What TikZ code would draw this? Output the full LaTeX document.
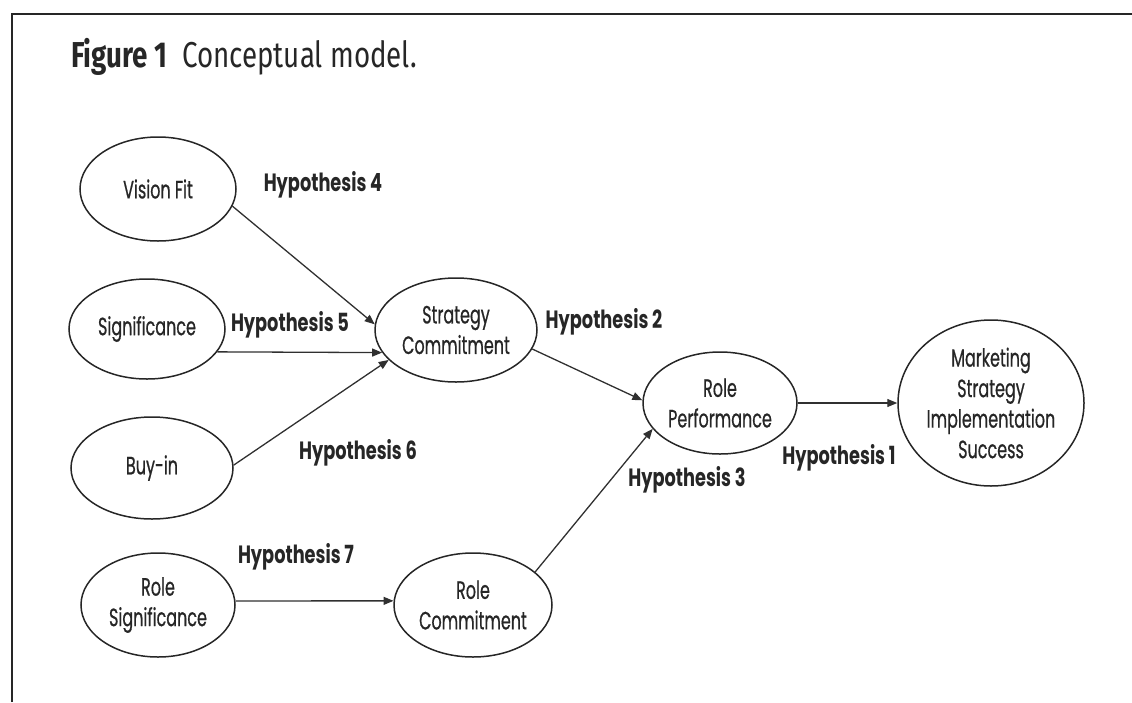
\documentclass[tikz,border=0pt]{standalone}
\usepackage{fontspec}
\usetikzlibrary{shapes.geometric,arrows.meta}
\newfontfamily\nodefont[FakeStretch=0.64,FakeBold=0.6]{Poppins}
\newfontfamily\hypfont[FakeStretch=0.71]{Poppins}
\newfontfamily\titlefont[FakeStretch=0.77]{Fira Sans}
\definecolor{ink}{HTML}{262626}
\definecolor{edge}{HTML}{303030}
\begin{document}
\begin{tikzpicture}[x=1pt,y=-1pt,
  construct/.style={ellipse,draw=ink,line width=1.5pt,inner sep=0pt,
    text=ink,font=\nodefont\fontsize{25}{30.5}\selectfont,align=center},
  hyp/.style={text=ink,font=\hypfont\bfseries\fontsize{25}{28}\selectfont,inner sep=0pt},
  arr/.style={draw=edge,line width=1.3pt,-{Triangle[length=10pt,width=8pt]}}]
\useasboundingbox (0,0) rectangle (1132,702);
% open frame: left and top rules only
\draw[ink,line width=2.2pt] (12,702) -- (12,14) -- (1132,14);
\node[anchor=west,text=ink,font=\titlefont\fontsize{36}{40}\selectfont,inner sep=0pt]
  (title) at (71,57) {\textbf{Figure 1}\ \ Conceptual model.};
% constructs
\node[construct,minimum width=156pt,minimum height=104pt] (vf) at (158,189) {Vision Fit};
\node[construct,minimum width=156pt,minimum height=100pt] (sig) at (147,329) {Significance};
\node[construct,minimum width=162pt,minimum height=102pt] (buy) at (152,468) {Buy-in};
\node[construct,minimum width=154pt,minimum height=104pt] (rs) at (158,605) {Role\\Significance};
\node[construct,minimum width=158pt,minimum height=104pt] (rc) at (473,605) {Role\\Commitment};
\node[construct,minimum width=162pt,minimum height=104pt] (sc) at (456,330) {Strategy\\Commitment};
\node[construct,minimum width=154pt,minimum height=102pt] (rp) at (720,403) {Role\\Performance};
\node[construct,minimum width=186pt,minimum height=166pt] (ms) at (991,403) {Marketing\\Strategy\\Implementation\\Success};
% paths
\draw[arr] (vf.-13) -- (sc.176);
\draw[arr] (sig.-18.4) -- (sc.-163.4);
\draw[arr] (buy.2) -- (sc.-156.2);
\draw[arr] (sc.-14.6) -- (rp.178);
\draw[arr] (rc.28.8) -- (rp.-159.6);
\draw[arr] (rs.3) -- (rc.177);
\draw[arr] (rp.0) -- (ms.180);
% hypothesis labels
\node[hyp] (h4) at (323,185) {Hypothesis 4};
\node[hyp] (h5) at (290,325) {Hypothesis 5};
\node[hyp] (h6) at (358,453) {Hypothesis 6};
\node[hyp] (h7) at (296,557) {Hypothesis 7};
\node[hyp] (h2) at (604,322) {Hypothesis 2};
\node[hyp] (h3) at (687,480) {Hypothesis 3};
\node[hyp] (h1) at (839,458) {Hypothesis 1};
\end{tikzpicture}
\end{document}
